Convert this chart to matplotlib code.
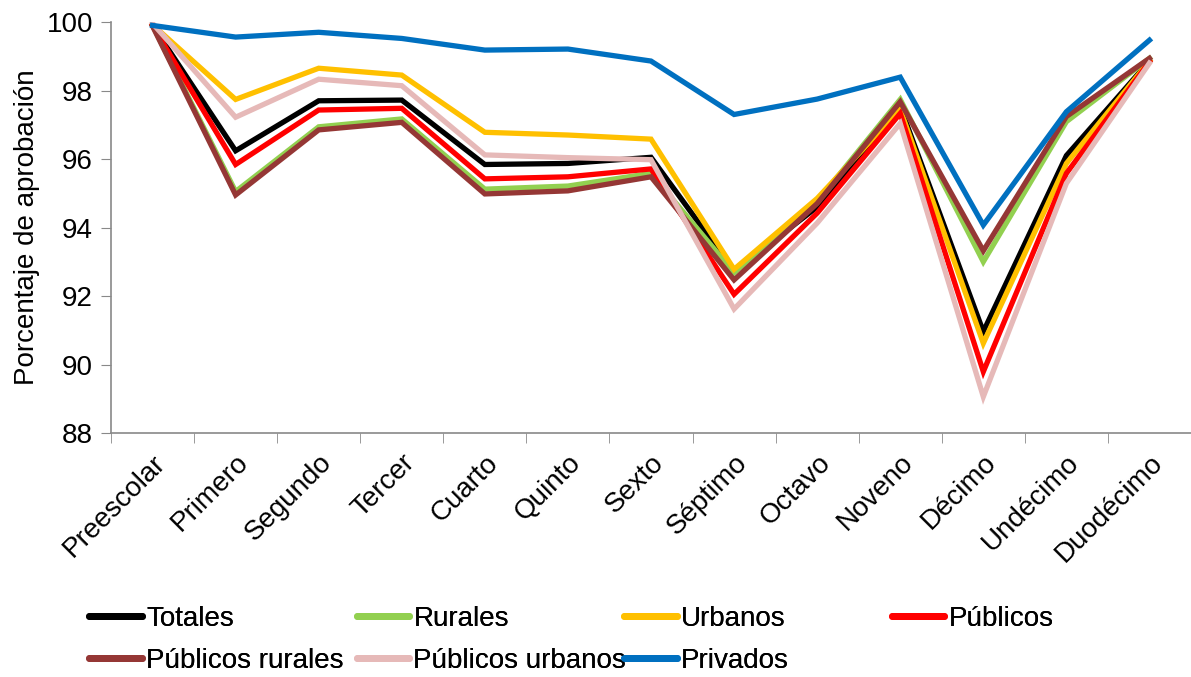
import matplotlib
matplotlib.use("Agg")
import matplotlib.pyplot as plt
import numpy as np

plt.rcParams['font.family'] = ['Liberation Sans', 'DejaVu Sans']

grados = ["Preescolar", "Primero", "Segundo", "Tercer", "Cuarto", "Quinto", "Sexto",
          "Séptimo", "Octavo", "Noveno", "Décimo", "Undécimo", "Duodécimo"]

totales = [99.90, 96.24, 97.70, 97.72, 95.84, 95.87, 96.05, 92.72, 94.60, 97.53, 90.96, 96.10, 98.86]
rurales = [99.90, 95.05, 96.94, 97.17, 95.12, 95.21, 95.58, 92.68, 94.75, 97.74, 93.00, 97.09, 98.94]
urbanos = [99.92, 97.74, 98.65, 98.45, 96.78, 96.70, 96.58, 92.78, 94.85, 97.45, 90.62, 95.87, 98.86]
publicos = [99.90, 95.84, 97.43, 97.48, 95.42, 95.48, 95.71, 92.05, 94.42, 97.33, 89.79, 95.58, 98.84]
pub_rurales = [99.88, 94.95, 96.85, 97.07, 94.98, 95.07, 95.48, 92.47, 94.70, 97.67, 93.32, 97.24, 98.94]
pub_urbanos = [99.96, 97.22, 98.33, 98.14, 96.12, 96.04, 95.98, 91.62, 94.13, 97.04, 89.06, 95.29, 98.80]
privados = [99.90, 99.56, 99.70, 99.52, 99.18, 99.21, 98.86, 97.30, 97.75, 98.39, 94.07, 97.38, 99.47]

series = [
    ("Totales", totales, "#000000"),
    ("Rurales", rurales, "#92D050"),
    ("Urbanos", urbanos, "#FFC000"),
    ("Públicos", publicos, "#FF0000"),
    ("Públicos rurales", pub_rurales, "#953735"),
    ("Públicos urbanos", pub_urbanos, "#E6B9B8"),
    ("Privados", privados, "#0070C0"),
]

FS = 20

fig = plt.figure(figsize=(11.91, 6.77), dpi=100)
ax = fig.add_axes([0.0932, 0.3604, 0.9068, 0.6071])

x = np.arange(len(grados))
handles = {}
for nombre, valores, color in series:
    h, = ax.plot(x, valores, color=color, lw=3.8, solid_joinstyle='miter', label=nombre)
    handles[nombre] = h

ax.set_xlim(-0.5, len(grados) - 0.5)
ax.set_ylim(88, 100)
ax.set_yticks(np.arange(88, 101, 2))
ax.set_xticks(x)
ax.set_xticklabels(grados, rotation=45, ha='right', rotation_mode='anchor', fontsize=FS)
ax.set_xticks(np.arange(-0.5, len(grados), 1), minor=True)
ax.tick_params(axis='x', which='major', length=0, pad=12)
ax.tick_params(axis='x', which='minor', length=7, color='#898989', direction='out')
ax.tick_params(axis='y', length=7, color='#898989', labelsize=FS, pad=6)
ax.set_ylabel("Porcentaje de aprobación", fontsize=FS, labelpad=5)

for side in ['top', 'right']:
    ax.spines[side].set_visible(False)
for side in ['left', 'bottom']:
    ax.spines[side].set_color('#898989')
    ax.spines[side].set_linewidth(1.2)

# legend laid out row by row in equal-width columns
columnas = [["Totales", "Públicos rurales"], ["Rurales", "Públicos urbanos"],
            ["Urbanos", "Privados"], ["Públicos"]]
for i, col in enumerate(columnas):
    leg = fig.legend([handles[n] for n in col], col, loc='upper left',
                     bbox_to_anchor=((89 + i * 267.5) / 1191, 1 - 606 / 677),
                     frameon=False, fontsize=FS, handlelength=1.9,
                     handletextpad=0.15, labelspacing=0.58, borderpad=0,
                     borderaxespad=0)
    for ln in leg.get_lines():
        ln.set_linewidth(5)
        ln.set_solid_capstyle('round')
    fig.add_artist(leg)

fig.savefig("out.png", dpi=100)
